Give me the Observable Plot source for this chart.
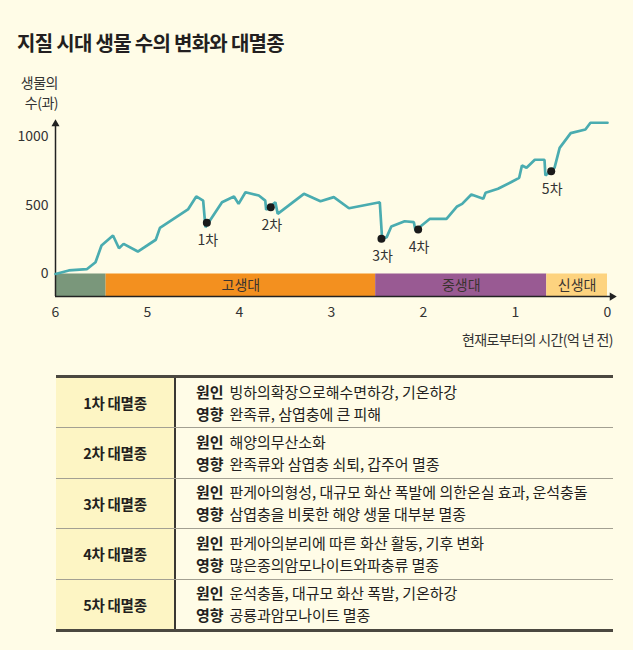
<!DOCTYPE html>
<html>
<head>
<meta charset="utf-8">
<script src="https://cdn.jsdelivr.net/npm/d3@7"></script>
<script src="https://cdn.jsdelivr.net/npm/@observablehq/plot@0.6"></script>
<style>
  html, body { margin: 0; padding: 0; background: #fffce7; }
  body { width: 633px; height: 650px; position: relative; overflow: hidden;
         font-family: "Noto Sans CJK KR", "Noto Sans", sans-serif; color: #231f20; }
  #title { position: absolute; left: 17px; top: 31px; font-size: 20px; line-height: 24px;
           font-weight: 700; letter-spacing: -0.7px; color: #231f20; white-space: nowrap; }
  #ylabel { position: absolute; left: 0; width: 58px; top: 72px; text-align: right;
            font-size: 14px; line-height: 20px; color: #333; letter-spacing: -0.5px; }
  #chart { position: absolute; left: 0; top: 70px; }
  #xlabel { position: absolute; right: 20px; top: 329px; font-size: 14px; line-height: 20px;
            color: #333; letter-spacing: -0.6px; white-space: nowrap; }
  #tbl { position: absolute; left: 56px; top: 375px; width: 557px; box-sizing: border-box;
         border-top: 3px solid #4b4840; border-bottom: 3px solid #4b4840; }
  .row { display: flex; height: 50.5px; box-sizing: border-box; border-top: 1.5px solid #a3a092; }
  .row:first-child { border-top: none; height: 49px; }
  .k { width: 120px; flex: none; box-sizing: border-box; background: #fdf5c4; border-right: 2px solid #3a3833;
       display: flex; align-items: center; justify-content: center; font-weight: 700;
       font-size: 14.5px; letter-spacing: -0.3px; }
  .v { flex: 1; padding-left: 20px; display: flex; flex-direction: column; justify-content: center;
       font-size: 15px; line-height: 22px; letter-spacing: -0.05px; white-space: nowrap; }
  .v b { font-weight: 700; margin-right: 6px; }
</style>
</head>
<body>
<div id="title"></div>
<div id="ylabel"></div>
<div id="chart"></div>
<div id="xlabel"></div>
<div id="tbl"></div>
<script>
// ---- data ----
const titleText = "지질 시대 생물 수의 변화와 대멸종";
const yLabelLines = ["생물의", "수(과)"];
const xLabelText = "현재로부터의 시간(억 년 전)";

// time (억 년 전) and number of families
const times  = [6, 5.855, 5.66, 5.565, 5.50, 5.375, 5.31, 5.26, 5.105, 4.91, 4.865, 4.56, 4.47, 4.395, 4.37,
                4.19, 4.06, 4.01, 3.935, 3.79, 3.72, 3.71, 3.61, 3.585, 3.30, 3.12, 2.975, 2.81, 2.475, 2.45,
                2.40, 2.35, 2.205, 2.105, 2.087, 1.93, 1.75, 1.635, 1.58, 1.48, 1.35, 1.325, 1.19, 1.05,
                0.96, 0.93, 0.88, 0.79, 0.685, 0.675, 0.576, 0.52, 0.40, 0.24, 0.185, 0];
const counts = [0, 26, 35, 86, 208, 281, 188, 220, 164, 250, 337, 471, 566, 536, 342,
                524, 566, 512, 597, 573, 536, 469, 524, 439, 585, 531, 561, 480, 524, 257,
                269, 347, 385, 378, 318, 403, 403, 493, 512, 580, 549, 593, 622, 670,
                702, 792, 775, 834, 834, 719, 775, 921, 1028, 1055, 1104, 1104];

const extLabels = ["1차", "2차", "3차", "4차", "5차"];
const extTimes  = [4.355, 3.66, 2.457, 2.058, 0.612];
const extCounts = [374, 488, 257, 325, 750];

const eraNames  = ["", "고생대", "중생대", "신생대"];
const eraStart  = [6, 5.45, 2.52, 0.66];
const eraEnd    = [5.45, 2.52, 0.66, 0];
const eraColors = ["#7a977b", "#f3901f", "#995a93", "#fdd37f"];

const xTicks = [6, 5, 4, 3, 2, 1, 0];
const yTicks = [0, 500, 1000];

const tableRows = ["1차 대멸종", "2차 대멸종", "3차 대멸종", "4차 대멸종", "5차 대멸종"];
const causes = [
  "빙하의확장으로해수면하강, 기온하강",
  "해양의무산소화",
  "판게아의형성, 대규모 화산 폭발에 의한온실 효과, 운석충돌",
  "판게아의분리에 따른 화산 활동, 기후 변화",
  "운석충돌, 대규모 화산 폭발, 기온하강"
];
const effects = [
  "완족류, 삼엽충에 큰 피해",
  "완족류와 삼엽충 쇠퇴, 갑주어 멸종",
  "삼엽충을 비롯한 해양 생물 대부분 멸종",
  "많은종의암모나이트와파충류 멸종",
  "공룡과암모나이트 멸종"
];

// ---- text ----
document.getElementById("title").textContent = titleText;
document.getElementById("ylabel").innerHTML = yLabelLines.join("<br>");
document.getElementById("xlabel").textContent = xLabelText;

// ---- chart ----
const series = times.map((t, i) => ({t, v: counts[i]}));
const ext = extLabels.map((l, i) => ({label: l, t: extTimes[i], v: extCounts[i]}));
const BAR_LO = -165;
const eras = eraNames.map((n, i) => ({name: n, x1: eraStart[i], x2: eraEnd[i], color: eraColors[i],
                                     mid: (eraStart[i] + eraEnd[i]) / 2, y1: BAR_LO, y2: 0, ym: BAR_LO / 2}));

const plot = Plot.plot({
  width: 633,
  height: 260,
  marginLeft: 55,
  marginRight: 26,
  marginTop: 50.75,
  marginBottom: 33.9,
  style: {background: "transparent", fontFamily: "'Noto Sans CJK KR', sans-serif", fontSize: "14px", color: "#333"},
  x: {domain: [6, 0]},
  y: {domain: [BAR_LO, 1115]},
  color: {type: "identity"},
  marks: [
    Plot.rect(eras, {x1: "x1", x2: "x2", y1: "y1", y2: "y2", fill: "color"}),
    Plot.text(eras, {x: "mid", y: "ym", text: "name", fill: "#3a3330", fontSize: 14}),
    Plot.axisX({ticks: xTicks, tickFormat: d => String(d), tickSize: 0, tickPadding: 10, label: null, fontSize: 14, color: "#333"}),
    Plot.axisY({ticks: yTicks, tickFormat: d => String(d), tickSize: 0, tickPadding: 7, label: null, fontSize: 14, color: "#333"}),
    Plot.ruleY([BAR_LO], {x1: 6, x2: -0.05, stroke: "#222", strokeWidth: 1.5}),
    Plot.ruleX([6], {y1: BAR_LO, y2: 1090, stroke: "#222", strokeWidth: 1.5}),
    Plot.dot([0], {x: () => -0.05, y: () => BAR_LO, symbol: "triangle", rotate: 90, r: 3, fill: "#222", stroke: "none"}),
    Plot.dot([0], {x: () => 6, y: () => 1095, symbol: "triangle", rotate: 0, r: 3, fill: "#222", stroke: "none"}),
    Plot.line(series, {x: "t", y: "v", stroke: "#4aacb0", strokeWidth: 2.7, strokeLinejoin: "miter"}),
    Plot.dot(ext, {x: "t", y: "v", r: 4, fill: "#1a1a1a", stroke: "none"}),
    Plot.text(ext, {x: "t", y: "v", text: "label", dy: 18, dx: 1, fill: "#333", fontSize: 14})
  ]
});
document.getElementById("chart").appendChild(plot);

// ---- table ----
const tbl = document.getElementById("tbl");
tableRows.forEach((name, i) => {
  const row = document.createElement("div");
  row.className = "row";
  row.innerHTML = `<div class="k">${name}</div><div class="v"><div><b>원인</b>${causes[i]}</div><div><b>영향</b>${effects[i]}</div></div>`;
  tbl.appendChild(row);
});
</script>
</body>
</html>
